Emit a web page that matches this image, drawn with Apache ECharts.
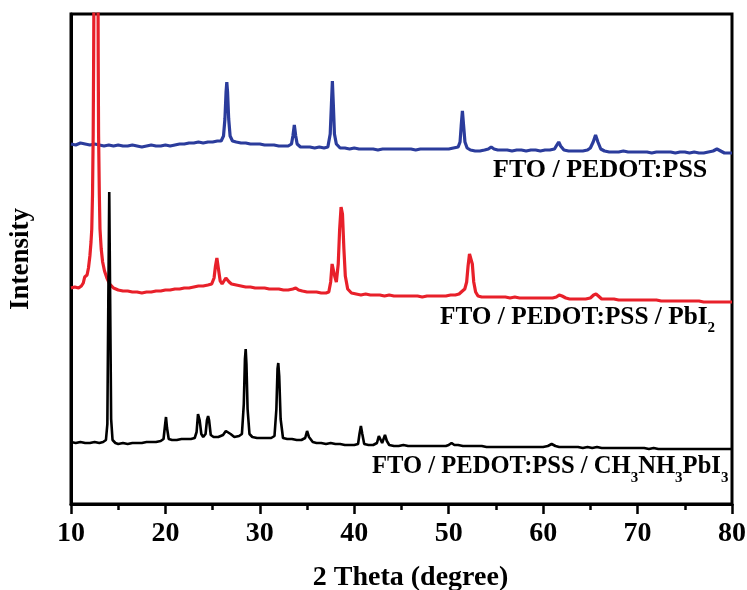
<!DOCTYPE html>
<html>
<head>
<meta charset="utf-8">
<script src="https://cdn.jsdelivr.net/npm/echarts@6/dist/echarts.min.js"></script>
<style>
  html, body { margin: 0; padding: 0; background: #fff; }
  #chart { width: 747px; height: 590px; }
</style>
</head>
<body>
<div id="chart"></div>
<script>
// XRD patterns, [2θ (degree), offset intensity (a.u.)]
var pedotPss = [
  [10.0,360],[10.5,359],[11,361],[11.5,360],[12,359],[12.5,360],[13,359],[13.5,358],[14,359],[14.5,358],
  [15,359],[15.5,358],[16,358],[16.5,359],[17,358],[17.5,357],[18,358],[18.5,359],[19,358],[19.5,358],
  [20,359],[20.5,358],[21,359],[21.5,360],[22,360],[22.5,361],[23,361],[23.5,362],[24,361],[24.5,362],
  [25,362],[25.5,363],[25.9,363],[26.15,368],[26.3,385],[26.42,412],[26.5,422],[26.58,412],[26.7,385],
  [26.85,368],[27.1,363],[27.5,362],[28,361],[28.5,361],[29,360],[29.5,360],[30,360],[30.5,359],[31,359],
  [31.5,359],[32,358],[32.5,358],[33,358],[33.35,360],[33.5,368],[33.65,379],[33.8,368],[33.95,360],
  [34.3,357],[34.8,357],[35.3,357],[35.8,356],[36.3,357],[36.8,356],[37.2,357],[37.45,370],[37.58,400],
  [37.68,423],[37.78,400],[37.9,370],[38.1,360],[38.5,356],[39,356],[39.5,355],[40,356],[40.5,355],
  [41,355],[41.5,355],[42,355],[42.5,354],[43,355],[43.5,355],[44,355],[44.5,355],[45,355],[45.5,355],
  [46,355],[46.5,354],[47,355],[47.5,355],[48,355],[48.5,355],[49,355],[49.5,355],[50,355],[50.5,356],
  [51,357],[51.2,362],[51.32,378],[51.45,393],[51.58,378],[51.72,362],[51.95,356],[52.3,354],[52.8,353],
  [53.3,353],[53.8,354],[54.2,355],[54.5,357],[54.8,355],[55.2,354],[55.7,354],[56.2,354],[56.7,353],
  [57.2,354],[57.7,354],[58.2,353],[58.7,354],[59.2,354],[59.7,353],[60.2,354],[60.7,354],[61.2,355],
  [61.45,359],[61.65,362],[61.85,358],[62.2,354],[62.7,353],[63.2,353],[63.7,353],[64.2,353],[64.7,354],
  [65.0,356],[65.3,362],[65.55,369],[65.8,362],[66.1,355],[66.5,353],[67,352],[67.5,352],[68,352],
  [68.5,353],[69,352],[69.5,352],[70,352],[70.5,352],[71,352],[71.5,351],[72,352],[72.5,352],[73,352],
  [73.5,352],[74,351],[74.5,352],[75,352],[75.5,351],[76,352],[76.5,351],[77,351],[77.5,352],[78,353],
  [78.4,355],[78.8,353],[79.2,351],[79.6,351],[80,351]
];

var pedotPssPbI2 = [
  [10.0,216],[10.4,217],[10.8,216],[11.1,218],[11.3,221],[11.45,227],[11.55,225],[11.7,229],[11.85,236],
  [12.0,248],[12.12,262],[12.2,275],[12.28,310],[12.35,370],[12.4,450],[12.45,560],[12.55,700],
  [12.75,700],[12.85,560],[12.88,450],[12.92,370],[13.0,310],[13.07,275],[13.2,255],[13.35,242],
  [13.55,233],[13.8,226],[14.1,220],[14.5,216],[15,214],[15.5,213],[16,213],[16.5,212],[17,212],
  [17.5,211],[18,212],[18.5,212],[19,213],[19.5,213],[20,214],[20.5,214],[21,215],[21.5,215],[22,216],
  [22.5,216],[23,217],[23.5,218],[24,218],[24.5,219],[24.9,220],[25.15,226],[25.3,238],[25.45,246],
  [25.6,236],[25.8,223],[26.0,220],[26.2,221],[26.4,226],[26.55,227],[26.75,222],[27.0,220],[27.5,219],
  [28,218],[28.5,217],[29,217],[29.5,216],[30,216],[30.5,216],[31,215],[31.5,215],[32,215],[32.5,214],
  [33,214],[33.5,215],[33.8,216],[34.1,214],[34.5,213],[35,212],[35.5,212],[36,212],[36.5,211],[37,211],
  [37.3,212],[37.5,222],[37.65,240],[37.78,242],[37.92,228],[38.1,222],[38.3,240],[38.45,275],[38.6,297],
  [38.75,290],[38.9,255],[39.05,228],[39.3,215],[39.7,211],[40.2,210],[40.7,209],[41.2,210],[41.7,209],
  [42.2,209],[42.7,209],[43.2,208],[43.7,209],[44.2,208],[44.7,208],[45.2,208],[45.7,208],[46.2,208],
  [46.7,208],[47.2,207],[47.7,208],[48.2,208],[48.7,208],[49.2,208],[49.7,208],[50.2,209],[50.7,209],
  [51.1,210],[51.45,213],[51.7,215],[51.9,222],[52.05,238],[52.2,250],[52.35,252],[52.5,240],[52.65,222],
  [52.85,212],[53.1,208],[53.5,207],[54,207],[54.5,207],[55,207],[55.5,207],[56,207],[56.5,206],[57,207],
  [57.5,206],[58,206],[58.5,206],[59,206],[59.5,206],[60,206],[60.5,206],[61,206],[61.4,207],[61.7,209],
  [62.0,208],[62.4,206],[62.8,205],[63.2,205],[63.6,205],[64,205],[64.5,205],[65,206],[65.35,209],
  [65.6,210],[65.85,208],[66.2,205],[66.6,205],[67,205],[67.5,205],[68,204],[68.5,204],[69,204],
  [69.5,204],[70,204],[70.5,204],[71,204],[71.5,204],[72,204],[72.5,203],[73,203],[73.5,203],[74,203],
  [74.5,203],[75,203],[75.5,203],[76,203],[76.5,203],[77,202],[77.5,202],[78,202],[78.5,202],[79,202],
  [79.5,202],[80,202]
];

var pedotPssMAPbI3 = [
  [10.0,62],[10.5,61],[11,62],[11.5,61],[12,61],[12.5,62],[13,61],[13.4,62],[13.7,64],[13.85,80],
  [13.95,200],[14.05,312],[14.15,200],[14.25,85],[14.4,64],[14.7,61],[15,60],[15.5,61],[16,60],[16.5,61],
  [17,61],[17.5,61],[18,62],[18.5,62],[19,62],[19.5,63],[19.8,65],[19.95,78],[20.06,87],[20.17,76],
  [20.35,65],[20.7,64],[21.2,64],[21.7,65],[22.2,65],[22.7,65],[23.1,66],[23.3,72],[23.45,90],[23.52,92],
  [23.62,84],[23.8,70],[24.0,67],[24.25,70],[24.4,84],[24.52,88],[24.62,84],[24.8,69],[25.1,67],[25.6,67],
  [26.1,69],[26.4,73],[26.6,74],[26.9,70],[27.3,67],[27.8,68],[28.1,70],[28.3,100],[28.42,145],[28.5,155],
  [28.58,140],[28.7,95],[28.9,70],[29.2,67],[29.7,66],[30.2,66],[30.7,66],[31.2,66],[31.55,68],[31.75,95],
  [31.87,135],[31.95,141],[32.05,128],[32.2,85],[32.45,66],[32.9,65],[33.4,65],[33.9,64],[34.4,64],
  [34.8,66],[35.0,73],[35.2,67],[35.6,62],[36.0,61],[36.5,61],[37,60],[37.5,61],[38,60],[38.5,60],[39,59],
  [39.5,59],[40,59],[40.4,60],[40.55,70],[40.7,78],[40.85,70],[41.05,60],[41.5,59],[42,59],[42.4,61],
  [42.6,68],[42.8,64],[42.95,61],[43.1,65],[43.25,69],[43.45,63],[43.7,59],[44.2,58],[44.7,58],[45.2,59],
  [45.7,58],[46.2,58],[46.7,58],[47.2,58],[47.7,58],[48.2,58],[48.7,58],[49.2,58],[49.7,58],[50.0,59],
  [50.3,61],[50.6,59],[51,59],[51.5,58],[52,58],[52.5,58],[53,58],[53.5,58],[54,57],[54.5,57],[55,57],
  [55.5,57],[56,57],[56.5,57],[57,57],[57.5,57],[58,57],[58.5,57],[59,57],[59.5,57],[60,57],[60.5,58],
  [60.9,60],[61.3,58],[61.7,57],[62.2,57],[62.7,57],[63.2,57],[63.7,57],[64.2,56],[64.7,57],[65.2,56],
  [65.7,57],[66.2,56],[66.7,56],[67.2,56],[67.7,56],[68.2,56],[68.7,56],[69.2,56],[69.7,56],[70.2,56],
  [70.7,56],[71.2,55],[71.7,56],[72.2,55],[72.7,55],[73.2,55],[73.7,55],[74.2,55],[74.7,55],[75.2,55],
  [75.7,55],[76.2,55],[76.7,55],[77.2,55],[77.7,55],[78.2,55],[78.7,55],[79.2,55],[79.7,55],[80,55]
];

// Axis range and tick step for 2θ
var thetaMin = 10;
var thetaMax = 80;
var thetaStep = 10;

var serif = "'Liberation Serif', 'Times New Roman', serif";

var chart = echarts.init(document.getElementById('chart'), null, { renderer: 'canvas' });

function sampleLabel(x, y, text, size, subSize, subDrop) {
  return {
    type: 'text',
    x: x,
    y: y,
    silent: true,
    style: {
      text: text,
      fill: '#000',
      fontFamily: serif,
      fontWeight: 'bold',
      fontSize: size,
      textVerticalAlign: 'middle',
      rich: {
        m: { fontFamily: serif, fontWeight: 'bold', fontSize: size, fill: '#000' },
        s: { fontFamily: serif, fontWeight: 'bold', fontSize: subSize, fill: '#000', padding: [subDrop, 0, 0, 0] }
      }
    }
  };
}

chart.setOption({
  animation: false,
  backgroundColor: '#fff',
  grid: {
    left: 71, right: 15, top: 14, bottom: 86,
    outerBoundsMode: 'none',
    containLabel: false,
    show: true, borderColor: '#000', borderWidth: 3, backgroundColor: 'transparent'
  },
  xAxis: {
    type: 'value',
    min: thetaMin,
    max: thetaMax,
    interval: thetaStep,
    name: '2 Theta (degree)',
    nameLocation: 'middle',
    nameGap: 60,
    nameTextStyle: { fontFamily: serif, fontWeight: 'bold', fontSize: 28, color: '#000', padding: [0, 0, 0, 18] },
    axisLine: { show: true, onZero: false, lineStyle: { color: '#000', width: 3 } },
    axisTick: { show: true, inside: false, length: 10, lineStyle: { color: '#000', width: 2.5 } },
    minorTick: { show: true, splitNumber: 2, length: 6, lineStyle: { color: '#000', width: 2.5 } },
    axisLabel: { margin: 16, fontFamily: serif, fontWeight: 'bold', fontSize: 28, color: '#000' },
    splitLine: { show: false }
  },
  yAxis: {
    type: 'value',
    min: 0,
    max: 490,
    name: 'Intensity',
    nameLocation: 'middle',
    nameGap: 36,
    nameTextStyle: { fontFamily: serif, fontWeight: 'bold', fontSize: 27, color: '#000' },
    axisLine: { show: true, onZero: false, lineStyle: { color: '#000', width: 3 } },
    axisTick: { show: false },
    axisLabel: { show: false },
    splitLine: { show: false }
  },
  series: [
    {
      name: 'FTO / PEDOT:PSS',
      type: 'line',
      data: pedotPss,
      showSymbol: false,
      symbol: 'none',
      clip: true,
      lineStyle: { color: '#2b3c9c', width: 3.2 },
      z: 2
    },
    {
      name: 'FTO / PEDOT:PSS / PbI2',
      type: 'line',
      data: pedotPssPbI2,
      showSymbol: false,
      symbol: 'none',
      clip: true,
      lineStyle: { color: '#e8202a', width: 3.2 },
      z: 3
    },
    {
      name: 'FTO / PEDOT:PSS / CH3NH3PbI3',
      type: 'line',
      data: pedotPssMAPbI3,
      showSymbol: false,
      symbol: 'none',
      clip: true,
      lineStyle: { color: '#000', width: 2.6 },
      z: 4
    }
  ],
  graphic: [
    sampleLabel(493, 170, '{m|FTO / PEDOT:PSS}', 26, 15, 23),
    sampleLabel(440, 317, '{m|FTO / PEDOT:PSS / PbI}{s|2}', 25.3, 15, 23),
    sampleLabel(372, 467, '{m|FTO / PEDOT:PSS / CH}{s|3}{m|NH}{s|3}{m|PbI}{s|3}', 24.6, 15, 23)
  ]
});
</script>
</body>
</html>
